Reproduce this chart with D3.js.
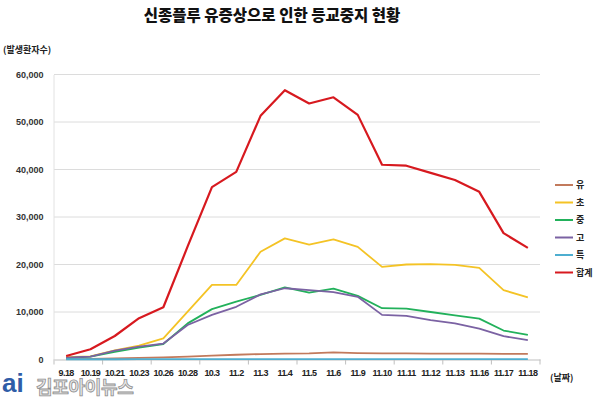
<!DOCTYPE html>
<html>
<head>
<meta charset="utf-8">
<script src="https://cdn.jsdelivr.net/npm/d3@7"></script>
<style>
body { margin: 0; background: #fff; }
svg { display: block; font-family: 'Noto Sans CJK KR', 'Liberation Sans', sans-serif; }
</style>
</head>
<body>
<div id="chart"></div>
<script>
var dates = ['9.18', '10.19', '10.21', '10.23', '10.26', '10.28', '10.3', '11.2', '11.3', '11.4',
	'11.5', '11.6', '11.9', '11.10', '11.11', '11.12', '11.13', '11.16', '11.17', '11.18'];
var seriesNames = ['유', '초', '중', '고', '특', '합계'];
var kinder = [100, 150, 250, 350, 450, 600, 800, 1000, 1150, 1250, 1300, 1500, 1350, 1300, 1300, 1250, 1250, 1250, 1200, 1200];
var elem = [500, 650, 1900, 2900, 4450, 10100, 15700, 15700, 22700, 25500, 24200, 25300, 23700, 19500, 20000, 20100, 19900, 19300, 14600, 13100];
var middle = [300, 600, 1600, 2500, 3260, 7600, 10600, 12200, 13600, 15200, 14100, 14900, 13400, 10800, 10700, 10000, 9300, 8600, 6100, 5200];
var high = [400, 600, 1850, 2700, 3350, 7260, 9400, 11100, 13700, 15000, 14600, 14200, 13200, 9400, 9200, 8300, 7600, 6500, 4900, 4100];
var special = [50, 50, 50, 60, 60, 60, 70, 70, 70, 80, 80, 80, 80, 80, 80, 80, 80, 80, 80, 80];
var total = [740, 2150, 4950, 8700, 11000, 23800, 36300, 39500, 51300, 56700, 53900, 55200, 51500, 41000, 40800, 39300, 37800, 35300, 26600, 23500];
var yTicks = [0, 10000, 20000, 30000, 40000, 50000, 60000];

var colors = ['#c27a5c', '#f4c325', '#22b15b', '#7b62a3', '#4eaed0', '#d7191f'];
var allSeries = [kinder, elem, middle, high, special, total];

var width = 600, height = 398;
var plot = {left: 54, right: 540, top: 74.5, bottom: 359.5};

var svg = d3.select('#chart').append('svg')
	.attr('width', width)
	.attr('height', height);

var x = d3.scaleBand()
	.domain(dates)
	.range([plot.left, plot.right]);
var y = d3.scaleLinear()
	.domain([0, 60000])
	.range([plot.bottom, plot.top]);

// gridlines
svg.append('g')
	.selectAll('line')
	.data(yTicks.slice(1))
	.enter().append('line')
	.attr('x1', plot.left)
	.attr('x2', plot.right)
	.attr('y1', function(d) {return y(d);})
	.attr('y2', function(d) {return y(d);})
	.attr('stroke', '#dcdcdc')
	.attr('stroke-width', 1);

// y axis
var yAxis = svg.append('g')
	.attr('transform', 'translate(' + (plot.left - 0.5) + ',0)')
	.call(d3.axisLeft(y).tickValues(yTicks).tickSize(0).tickPadding(10).tickFormat(d3.format(',')));
yAxis.select('.domain').attr('stroke', '#e2e2e2');
yAxis.selectAll('text')
	.attr('font-family', 'Liberation Sans, sans-serif')
	.attr('font-size', 9)
	.attr('font-weight', 'bold')
	.attr('fill', '#333');

// x axis, ticks every other category boundary
var xAxis = svg.append('g')
	.attr('transform', 'translate(0,' + plot.bottom + ')')
	.call(d3.axisBottom(x).tickSize(0).tickPadding(10.5));
xAxis.select('.domain').attr('stroke', '#bfbfbf');
xAxis.selectAll('text')
	.attr('font-family', 'Liberation Sans, sans-serif')
	.attr('font-size', 9)
	.attr('font-weight', 'bold')
	.attr('letter-spacing', -0.6)
	.attr('fill', '#222');
xAxis.selectAll('line.sep')
	.data(dates.filter(function(d, i) {return i % 2 === 0;}).concat(['end']))
	.enter().append('line')
	.classed('sep', true)
	.attr('x1', function(d) {return d === 'end' ? plot.right : x(d);})
	.attr('x2', function(d) {return d === 'end' ? plot.right : x(d);})
	.attr('y1', 0)
	.attr('y2', 5)
	.attr('stroke', '#bfbfbf');

var line = d3.line()
	.x(function(d, i) {return x(dates[i]) + x.bandwidth() / 2;})
	.y(function(d) {return y(d);});

svg.append('g')
	.selectAll('path')
	.data(allSeries)
	.enter().append('path')
	.attr('d', line)
	.attr('fill', 'none')
	.attr('stroke', function(d, i) {return colors[i];})
	.attr('stroke-width', function(d, i) {return i === 5 ? 2.2 : 1.8;})
	.attr('stroke-linejoin', 'round');

// legend
var legend = svg.append('g')
	.attr('transform', 'translate(555,185)');
var item = legend.selectAll('g')
	.data(seriesNames)
	.enter().append('g')
	.attr('transform', function(d, i) {return 'translate(0,' + (i * 17.5) + ')';});
item.append('line')
	.attr('x1', 0)
	.attr('x2', 18)
	.attr('stroke', function(d, i) {return colors[i];})
	.attr('stroke-width', 2);
item.append('text')
	.attr('x', 21)
	.attr('dy', '0.35em')
	.attr('font-size', 9)
	.attr('font-weight', 'bold')
	.attr('fill', '#222')
	.text(function(d) {return d;});

// titles
svg.append('text')
	.attr('x', 272)
	.attr('y', 21)
	.attr('text-anchor', 'middle')
	.attr('font-size', 15.5)
	.attr('font-weight', 900)
	.attr('fill', '#111')
	.text('신종플루 유증상으로 인한 등교중지 현황');
svg.append('text')
	.attr('x', 3)
	.attr('y', 53)
	.attr('font-size', 9)
	.attr('font-weight', 'bold')
	.attr('fill', '#222')
	.text('(발생환자수)');
svg.append('text')
	.attr('x', 550)
	.attr('y', 381)
	.attr('font-size', 9)
	.attr('font-weight', 'bold')
	.attr('fill', '#222')
	.text('(날짜)');

// watermark (overlaps the first date labels, as in the source image)
svg.append('text')
	.attr('x', 2)
	.attr('y', 392)
	.attr('font-family', 'Liberation Sans, sans-serif')
	.attr('font-size', 26)
	.attr('font-weight', 'bold')
	.attr('fill', '#2f5da8')
	.text('ai');
svg.append('text')
	.attr('x', 36)
	.attr('y', 394)
	.attr('font-size', 18)
	.attr('font-weight', 'bold')
	.attr('fill', '#e8e8e8')
	.attr('stroke', '#8f8f8f')
	.attr('stroke-width', 0.8)
	.attr('letter-spacing', -0.3)
	.text('김포아이뉴스');
</script>
</body>
</html>
